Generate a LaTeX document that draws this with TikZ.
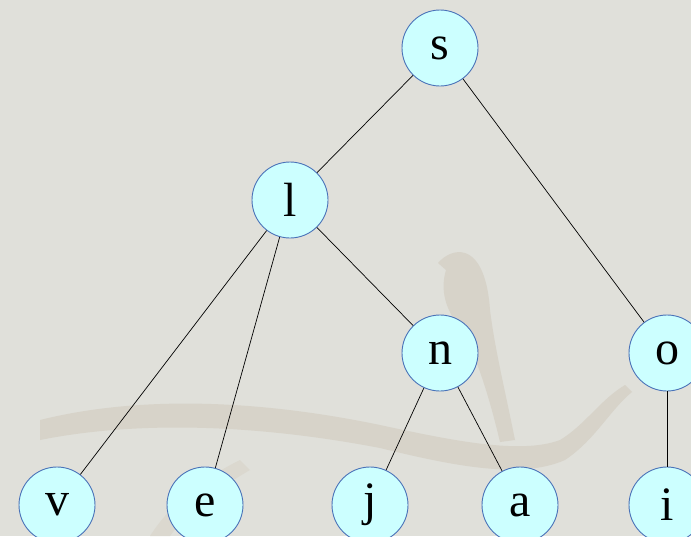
\documentclass[tikz,border=0pt]{standalone}
\usepackage{fontspec}
\setmainfont{Liberation Serif}
\definecolor{paper}{HTML}{E0E0DA}
\definecolor{backtint}{HTML}{D7D3C9}
\definecolor{backtintlight}{HTML}{DBD8CF}
\definecolor{nodefill}{HTML}{CCFFFF}
\definecolor{nodeline}{HTML}{4A72B8}
\tikzset{
  treenode/.style={circle, draw=nodeline, line width=0.9pt, fill=nodefill,
    minimum size=76pt, inner sep=0pt, font=\fontsize{48}{48}\selectfont},
  treeedge/.style={draw=black, line width=0.7pt}
}
\begin{document}
\begin{tikzpicture}[x=1pt,y=-1pt]
  \useasboundingbox (0,0) rectangle (691,536);
  \clip (0,0) rectangle (691,536);
  \fill[paper] (0,0) rectangle (691,536);
  % faded branch and perched bird in the backdrop
  \fill[fill=backtint]
    (40,420) .. controls (140,395) and (260,400) .. (380,425)
    .. controls (450,440) and (520,455) .. (560,440)
    .. controls (585,425) and (600,400) .. (625,385)
    -- (632,392)
    .. controls (610,410) and (595,440) .. (565,460)
    .. controls (520,480) and (450,465) .. (380,448)
    .. controls (260,425) and (140,420) .. (40,440) -- cycle;
  \fill[fill=backtintlight]
    (150,536) .. controls (170,505) and (200,480) .. (240,460)
    -- (250,470) .. controls (215,490) and (185,515) .. (170,536) -- cycle;
  \fill[fill=backtint]
    (438,263) .. controls (445,255) and (455,250) .. (465,253)
    .. controls (480,258) and (488,280) .. (490,310)
    .. controls (495,350) and (505,390) .. (515,440)
    -- (500,442)
    .. controls (490,400) and (478,360) .. (462,330)
    .. controls (445,310) and (440,290) .. (446,270)
    -- cycle;
  % tree
  \node[treenode] (s) at (440,48) {s};
  \node[treenode] (l) at (290,200) {l};
  \node[treenode] (n) at (440,353) {n};
  \node[treenode] (o) at (667,353) {o};
  \node[treenode] (v) at (57,505) {v};
  \node[treenode] (e) at (205,505) {e};
  \node[treenode] (j) at (370,505) {j};
  \node[treenode] (a) at (520,505) {a};
  \node[treenode] (i) at (667,505) {i};
  \draw[treeedge] (s) -- (l);
  \draw[treeedge] (s) -- (o);
  \draw[treeedge] (l) -- (v);
  \draw[treeedge] (l) -- (e);
  \draw[treeedge] (l) -- (n);
  \draw[treeedge] (n) -- (j);
  \draw[treeedge] (n) -- (a);
  \draw[treeedge] (o) -- (i);
\end{tikzpicture}
\end{document}
